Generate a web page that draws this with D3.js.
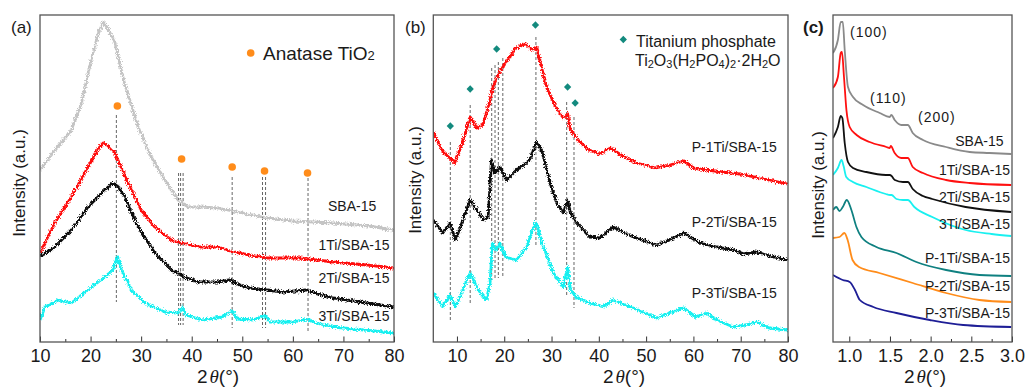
<!DOCTYPE html>
<html>
<head>
<meta charset="utf-8">
<script src="https://cdn.jsdelivr.net/npm/d3@7"></script>
<style>
    body { margin: 0; background: #fff; }
    text { font-family: "Liberation Sans", Arial, sans-serif; fill: #1a1a1a; }
</style>
</head>
<body>
<div id="chart"></div>
<script>
// ---- panel (a): wide angle XRD, 2theta vs intensity (a.u.) ----
const sbaA = [[10,172],[13,192],[16.2,212],[18.2,239],[20.1,282],[21.5,308],[22.5,320],[23.5,313],[24.8,299],[26.7,259],[29.4,215],[32,185],[34.7,162],[37.3,142],[39.3,135],[41.6,135],[45.2,134],[48,131],[50,129],[54.8,124],[60,121],[68,119],[75,116],[80,112]];
const ti1A = [[10,89],[12.9,119],[16.2,145],[19.5,175],[21.5,193],[22.5,199],[23.5,196],[24.8,189],[27.4,159],[30,132],[32.7,115],[36,102],[37.9,99],[41.6,95],[45.2,95],[48.2,90],[54.8,84],[61.4,84],[63,83],[68,80],[74.6,77],[80,74]];
const ti2A = [[10,86],[12.9,95],[16.2,112],[19.5,135],[22.8,152],[24.4,159],[25.5,155],[26.7,145],[29.4,115],[32.7,89],[36,72],[38.6,65],[41.2,60],[45.2,60],[47.6,62],[49,58],[51.5,54],[55,52],[58,50],[62.7,52],[65,48],[68,44],[74.6,39],[80,35]];
const ti3A = [[10,22],[11,35],[13.6,42],[16.2,39],[19.5,52],[22.8,65],[24.4,72],[25.3,85],[26.1,72],[28.1,52],[30.7,39],[34.7,30],[37.3,29],[38.1,35],[38.9,27],[42,22],[46,25],[48,31],[49,23],[52,22],[54.5,26],[55.5,20],[60,20],[63,23],[64.5,19],[68,15],[74,12],[80,9]];
const namesA = ["SBA-15", "1Ti/SBA-15", "2Ti/SBA-15", "3Ti/SBA-15"];
const anataseX = [25.3, 38.0, 48.0, 54.4, 62.9];
const anataseY = [236, 183, 175, 171, 169];
// [x, top, bottom]
const dropA = [[25.1,227,40],[37.4,169,17],[37.8,169,17],[38.3,169,17],[48.0,165,14],[54.0,165,14],[54.6,165,14],[63.0,164,10]];

// ---- panel (b) ----
const p1B = [[5,210],[7,190],[8.5,184],[9.5,179],[11,197],[12.8,225],[14.2,214],[15.5,217],[17,242],[17.5,254],[19,270],[21,284],[22.5,294],[24.5,298],[26,292],[26.7,295],[27.5,282],[29,254],[31,234],[32.5,224],[33.4,228],[34,212],[36,200],[38,192],[40,188],[42.5,194],[45,186],[48,179],[52,174],[55,177],[58,181],[60,174],[66,170],[70,168],[74,164],[80,158]];
const p2B = [[5,122],[7,109],[8.5,119],[9.7,102],[11.5,125],[12.8,142],[14.2,132],[15.6,122],[16.6,125],[17.3,182],[18,169],[19.1,175],[20.5,162],[22.6,172],[24.7,179],[25.7,185],[26.7,200],[27.9,192],[29.7,159],[31.1,139],[32.5,129],[33.4,142],[34,129],[35.3,119],[38.1,105],[40.2,104],[43,115],[47.3,105],[52.2,97],[55,102],[57.9,109],[61.4,99],[65,95],[68.4,92],[70.5,88],[73.4,90],[76,86],[80,82]];
const p3B = [[5,49],[7,35],[8.5,47],[9.7,35],[11.5,55],[12.8,69],[14.5,52],[16.2,42],[17,59],[17.5,99],[18.3,92],[19.1,99],[20.2,85],[22.6,82],[24.7,95],[26.7,120],[28,99],[30.4,69],[32.5,55],[33.4,75],[34,52],[35.3,45],[38.1,39],[41,35],[43,42],[47.3,34],[52.2,24],[55,29],[57.9,34],[60.5,25],[62.7,29],[65,22],[68.4,15],[71,17],[73.4,20],[76,14],[80,12]];
const namesB = ["P-1Ti/SBA-15", "P-2Ti/SBA-15", "P-3Ti/SBA-15"];
const phosphateX = [8.6, 12.8, 18.4, 26.6, 33.4, 35.0];
const phosphateY = [216, 253, 293, 317, 255, 239];
const dropB = [[8.6,200,22],[12.8,237,39],[17.35,274,62],[18.05,277,62],[18.75,280,64],[19.7,284,65],[26.7,305,97],[33.2,240,47],[34.75,225,34]];

// ---- panel (c): small angle ----
const sbaC = [[0.8,289],[0.86,302],[0.895,320],[0.92,320],[0.944,292],[0.984,255],[1.046,245],[1.17,237],[1.374,229],[1.497,225],[1.518,227],[1.558,222],[1.64,217],[1.72,217],[1.78,209],[1.906,202],[2.19,195],[2.48,190],[2.725,189],[2.99,188]];
const ti1C = [[0.8,254],[0.86,265],[0.895,289],[0.91,290],[0.935,265],[0.965,232],[1.005,215],[1.09,207],[1.25,200],[1.456,195],[1.497,194],[1.51,196],[1.558,189],[1.64,184],[1.72,184],[1.78,175],[1.906,169],[2.19,162],[2.48,159],[2.99,157]];
const ti2C = [[0.8,204],[0.86,215],[0.895,226],[0.915,224],[0.944,199],[0.984,180],[1.046,174],[1.21,170],[1.45,167],[1.5,167],[1.52,166],[1.56,162],[1.66,160],[1.72,160],[1.78,153],[1.906,146],[2.02,143],[2.43,135],[2.99,130]];
const ti3C = [[0.8,167],[0.86,174],[0.905,182],[0.93,176],[0.963,165],[1.045,160],[1.21,155],[1.45,148],[1.5,147],[1.52,147],[1.58,143],[1.66,142],[1.72,142],[1.8,135],[2.02,125],[2.43,112],[2.75,108],[2.99,106]];
const p1C = [[0.8,132],[0.84,135],[0.88,131],[0.92,135],[0.97,142],[1.026,132],[1.088,115],[1.149,105],[1.333,95],[1.58,89],[1.825,80],[2.19,72],[2.6,67],[2.99,66]];
const p2C = [[0.8,104],[0.88,105],[0.94,109],[0.98,102],[1.04,82],[1.12,75],[1.37,69],[1.78,59],[2.19,49],[2.6,42],[2.99,40]];
const p3C = [[0.8,67],[0.92,62],[1.005,60],[1.07,52],[1.13,42],[1.296,35],[1.58,29],[1.99,22],[2.4,17],[2.99,15]];
const namesC = ["SBA-15", "1Ti/SBA-15", "2Ti/SBA-15", "3Ti/SBA-15", "P-1Ti/SBA-15", "P-2Ti/SBA-15", "P-3Ti/SBA-15"];
const planes = ["(100)", "(110)", "(200)"];

const svg = d3.select("#chart")
    .append("svg")
    .attr("width", 1025)
    .attr("height", 388);

// noisy look of the raw diffractograms
const filter = svg.append("defs").append("filter")
    .attr("id", "rough")
    .attr("filterUnits", "userSpaceOnUse")
    .attr("x", 0).attr("y", 0).attr("width", 1025).attr("height", 388);
filter.append("feTurbulence")
    .attr("type", "fractalNoise")
    .attr("baseFrequency", "1.6 0.7")
    .attr("numOctaves", 1)
    .attr("seed", 4)
    .attr("result", "noise");
filter.append("feDisplacementMap")
    .attr("in", "SourceGraphic")
    .attr("in2", "noise")
    .attr("scale", 6)
    .attr("xChannelSelector", "R")
    .attr("yChannelSelector", "G");

function drawPanel(p) {
    const x = d3.scaleLinear().domain(p.xDomain).range([p.left, p.right]);
    const y = d3.scaleLinear().domain([0, 327]).range([p.bottom, p.top]);
    const g = svg.append("g");

    // minor + major ticks, pointing inwards
    g.append("g")
        .attr("transform", `translate(0,${p.bottom})`)
        .style("color", "#333")
        .call(d3.axisBottom(x).tickValues(p.minor).tickSize(-3).tickFormat(""))
        .select(".domain").remove();
    const ax = g.append("g")
        .attr("transform", `translate(0,${p.bottom})`)
        .style("color", "#333")
        .call(d3.axisBottom(x).tickValues(p.major).tickSize(-5.5).tickPadding(7).tickFormat(p.fmt));
    ax.select(".domain").remove();
    ax.selectAll("text").style("font-size", "18px");

    // reference drop lines and markers
    g.selectAll(".drop")
        .data(p.drops)
        .enter()
        .append("line")
        .attr("x1", d => x(d[0])).attr("x2", d => x(d[0]))
        .attr("y1", d => y(d[1])).attr("y2", d => y(d[2]))
        .attr("stroke", "#666")
        .attr("stroke-width", 1)
        .attr("stroke-dasharray", "3,2");

    const clipId = "clip-" + p.key;
    svg.append("clipPath").attr("id", clipId)
        .append("rect")
        .attr("x", p.left).attr("y", p.top)
        .attr("width", p.right - p.left).attr("height", p.bottom - p.top);

    const line = d3.line()
        .x(d => x(d[0]))
        .y(d => y(d[1]))
        .curve(p.smooth ? d3.curveMonotoneX : d3.curveLinear);

    const lines = g.append("g").attr("clip-path", `url(#${clipId})`);
    p.series.forEach((s, i) => {
        lines.append("path")
            .attr("d", line(s))
            .attr("fill", "none")
            .attr("stroke", p.colors[i])
            .attr("stroke-width", p.smooth ? 1.8 : 2.8)
            .attr("stroke-linejoin", "round")
            .attr("filter", p.smooth ? null : "url(#rough)");
    });

    // frame
    g.append("rect")
        .attr("x", p.left).attr("y", p.top)
        .attr("width", p.right - p.left).attr("height", p.bottom - p.top)
        .attr("fill", "none")
        .attr("stroke", "#555")
        .attr("stroke-width", 1.3);

    // series names
    g.selectAll(".name")
        .data(p.names)
        .enter()
        .append("text")
        .attr("x", (d, i) => p.namePos[i][0])
        .attr("y", (d, i) => p.namePos[i][1])
        .attr("text-anchor", p.nameAnchor)
        .style("font-size", "14px")
        .text(d => d);

    // axis titles and panel tag
    g.append("text")
        .attr("transform", `translate(${p.yTitle[0]},${p.yTitle[1]}) rotate(-90)`)
        .attr("text-anchor", "middle")
        .style("font-size", "17px")
        .text("Intensity (a.u.)");
    const xt = g.append("text")
        .attr("x", p.xTitle)
        .attr("y", 383)
        .attr("text-anchor", "middle")
        .style("font-size", "19px");
    xt.append("tspan").text("2");
    xt.append("tspan")
        .style("font-family", "'Liberation Serif', 'DejaVu Serif', serif")
        .style("font-style", "italic")
        .attr("dx", 2)
        .text("θ");
    xt.append("tspan").text("(°)");
    g.append("text")
        .attr("x", p.tag[0]).attr("y", p.tag[1])
        .style("font-size", "17px")
        .style("font-weight", p.tagBold ? "bold" : null)
        .text(p.tagText);

    return { g, x, y };
}

const a = drawPanel({
    key: "a", xDomain: [10, 80], left: 40, right: 394, top: 15, bottom: 342,
    major: d3.range(10, 81, 10), minor: d3.range(15, 80, 10), fmt: d3.format("d"),
    series: [sbaA, ti1A, ti2A, ti3A],
    colors: ["#c4c4c4", "#ff1010", "#111111", "#19f0f0"],
    drops: dropA, names: namesA,
    namePos: [[328, 211], [318.5, 250], [318.5, 283], [318.5, 321]], nameAnchor: "start",
    yTitle: [25, 183], xTitle: 218, tag: [11, 33], tagText: "(a)",
});
a.g.selectAll(".anatase")
    .data(anataseX)
    .enter()
    .append("circle")
    .attr("cx", d => a.x(d))
    .attr("cy", (d, i) => a.y(anataseY[i]))
    .attr("r", 3.8)
    .attr("fill", "#ff8c1a");
a.g.append("circle").attr("cx", 250.7).attr("cy", 53).attr("r", 3.8).attr("fill", "#ff8c1a");
const legA = a.g.append("text").attr("x", 263).attr("y", 59.5).style("font-size", "19px");
legA.append("tspan").text("Anatase TiO");
legA.append("tspan").style("font-size", "13px").text("2");

const b = drawPanel({
    key: "b", xDomain: [5, 80], left: 433.3, right: 788, top: 15, bottom: 342,
    major: d3.range(10, 81, 10), minor: d3.range(15, 80, 10), fmt: d3.format("d"),
    series: [p1B, p2B, p3B],
    colors: ["#ff1010", "#111111", "#19f0f0"],
    drops: dropB, names: namesB,
    namePos: [[691.7, 152], [691.7, 227], [691.7, 298]], nameAnchor: "start",
    yTitle: [421, 180], xTitle: 624, tag: [405, 33], tagText: "(b)",
});
const diamond = d3.symbol().type(d3.symbolDiamond2).size(34);
b.g.selectAll(".phos")
    .data(phosphateX)
    .enter()
    .append("path")
    .attr("d", diamond)
    .attr("transform", (d, i) => `translate(${b.x(d)},${b.y(phosphateY[i])})`)
    .attr("fill", "#138a7e");
b.g.append("path").attr("d", diamond).attr("transform", "translate(623.3,39.5)").attr("fill", "#138a7e");
b.g.append("text").attr("x", 636).attr("y", 46.5).style("font-size", "16px").text("Titanium phosphate");
const formula = b.g.append("text").attr("x", 635).attr("y", 66).style("font-size", "16px");
[["Ti"], ["2", 1], ["O"], ["3", 1], ["(H"], ["2", 1], ["PO"], ["4", 1], [")"], ["2", 1], ["·2H"], ["2", 1], ["O"]]
    .forEach(([t, sub]) => {
        formula.append("tspan")
            .style("font-size", sub ? "11px" : "16px")
            .attr("y", sub ? 67.5 : 66)
            .text(t);
    });

const c = drawPanel({
    key: "c", xDomain: [0.8, 3.0], left: 833, right: 1012, top: 15, bottom: 342,
    major: [1.0, 1.5, 2.0, 2.5, 3.0], minor: [1.25, 1.75, 2.25, 2.75], fmt: d3.format(".1f"),
    series: [sbaC, ti1C, ti2C, ti3C, p1C, p2C, p3C],
    colors: ["#8a8a8a", "#ff1010", "#111111", "#19f0f0", "#0f8080", "#ff8c1a", "#1e1e96"],
    drops: [], names: namesC, smooth: true,
    namePos: [[1003.5, 146], [1010, 175], [1010, 202], [1010, 229], [1010, 263], [1010, 290.5], [1010, 318]],
    nameAnchor: "end",
    yTitle: [824, 185], xTitle: 925, tag: [803, 33], tagText: "(c)", tagBold: true,
});
c.g.selectAll(".plane")
    .data(planes)
    .enter()
    .append("text")
    .attr("x", (d, i) => [850, 870, 918][i])
    .attr("y", (d, i) => [37, 103, 122][i])
    .style("font-size", "14px")
    .style("letter-spacing", "1px")
    .text(d => d);
</script>
</body>
</html>
